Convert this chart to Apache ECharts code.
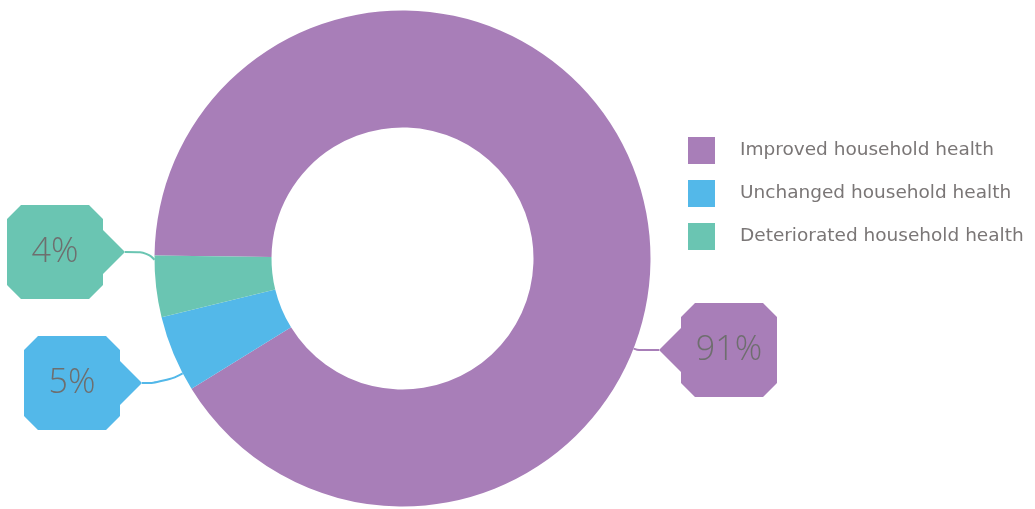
<!DOCTYPE html>
<html>
<head>
<meta charset="utf-8">
<title>Household health</title>
<script src="https://cdn.jsdelivr.net/npm/echarts@6/dist/echarts.min.js"></script>
<style>
  html, body { margin: 0; padding: 0; background: #ffffff; }
  #chart { width: 1035px; height: 509px; }
</style>
</head>
<body>
<div id="chart"></div>
<script>
// Share of households by change in household health
const categories = ['Improved household health', 'Unchanged household health', 'Deteriorated household health'];
const values = [91, 5, 4];
const colors = ['#a87eb8', '#53b8e9', '#6ac5b2'];

// Ring geometry
const CENTER = [402.5, 258.5];
const RADII = [131, 248];
const START_ANGLE = 179.3;

// Callout centres (pixels) and which side the pointer sits on
const calloutCentres = [[718, 350], [83, 383], [66, 252]];
const pointerSide = ['left', 'right', 'right'];
const CALLOUT_HALF_W = 59;
const LEADER_LEN = 22;

const TEXT_GREY = '#6e6e6e';
const FONT = '"Open Sans", "DejaVu Sans", sans-serif';

// Octagonal callout with a triangular pointer, as an SVG image for the label background
function calloutImage(color, side) {
  const right = 'M14 0 H82 L96 14 V25 L118 47 L96 69 V80 L82 94 H14 L0 80 V14 Z';
  const left = 'M104 0 H36 L22 14 V25 L0 47 L22 69 V80 L36 94 H104 L118 80 V14 Z';
  const svg = "<svg xmlns='http://www.w3.org/2000/svg' width='118' height='94' viewBox='0 0 118 94'>" +
    "<path d='" + (side === 'right' ? right : left) + "' fill='" + color + "'/></svg>";
  return 'data:image/svg+xml;charset=utf-8,' + encodeURIComponent(svg);
}

// Angular span of each slice (degrees, counter-clockwise positive, drawn clockwise from START_ANGLE)
const total = values.reduce((a, b) => a + b, 0);
const sliceSpans = [];
(function () {
  let a = START_ANGLE;
  values.forEach(v => {
    const end = a - v / total * 360;
    sliceSpans.push([end, a]);
    a = end;
  });
})();

// Point on the outer rim of slice i closest to (x, y), kept a little inside the slice
function rimPoint(i, x, y) {
  const [lo, hi] = sliceSpans[i];
  const margin = 1;
  let ang = Math.atan2(CENTER[1] - y, x - CENTER[0]) * 180 / Math.PI;
  while (ang < lo) ang += 360;
  while (ang >= lo + 360) ang -= 360;
  if (ang > hi) {
    ang = (ang - hi) < (lo + 360 - ang) ? hi - margin : lo + margin;
  }
  ang = Math.min(Math.max(ang, lo + margin), hi - margin);
  const r = ang * Math.PI / 180;
  return [CENTER[0] + RADII[1] * Math.cos(r), CENTER[1] - RADII[1] * Math.sin(r)];
}

const seriesData = categories.map((name, i) => ({
  name: name,
  value: values[i],
  itemStyle: { color: colors[i] },
  label: {
    backgroundColor: { image: calloutImage(colors[i], pointerSide[i]) },
    width: 96,
    lineHeight: 94,
    padding: pointerSide[i] === 'right' ? [0, 22, 0, 0] : [0, 0, 0, 22]
  },
  labelLine: { lineStyle: { color: colors[i] } }
}));

const chart = echarts.init(document.getElementById('chart'), null, { renderer: 'canvas' });

chart.setOption({
  animation: false,
  backgroundColor: '#ffffff',
  legend: {
    orient: 'vertical',
    left: 688,
    top: 137,
    padding: 0,
    itemWidth: 27,
    itemHeight: 27,
    itemGap: 16,
    icon: 'rect',
    selectedMode: false,
    data: categories,
    textStyle: {
      fontFamily: '"DejaVu Sans", sans-serif',
      fontSize: 18.5,
      color: '#7a7676',
      padding: [0, 0, 0, 20]
    }
  },
  series: [{
    type: 'pie',
    center: CENTER,
    radius: RADII,
    startAngle: START_ANGLE,
    clockwise: true,
    avoidLabelOverlap: false,
    silent: true,
    itemStyle: { borderWidth: 0 },
    label: {
      show: true,
      position: 'outside',
      formatter: '{c}%',
      fontFamily: FONT,
      fontWeight: 300,
      fontSize: 34,
      color: TEXT_GREY,
      align: 'center'
    },
    labelLine: {
      show: true,
      length: 10,
      length2: LEADER_LEN,
      smooth: 0.5,
      lineStyle: { width: 2 }
    },
    labelLayout: function (params) {
      const i = params.dataIndex;
      const c = calloutCentres[i];
      const dir = pointerSide[i] === 'right' ? 1 : -1;
      const tip = [c[0] + dir * CALLOUT_HALF_W, c[1]];
      const bend = [tip[0] + dir * LEADER_LEN, tip[1]];
      const rim = rimPoint(i, bend[0], bend[1]);
      return {
        x: c[0],
        y: c[1],
        align: 'center',
        verticalAlign: 'middle',
        labelLinePoints: [rim, bend, tip]
      };
    },
    data: seriesData
  }]
});
</script>
</body>
</html>
